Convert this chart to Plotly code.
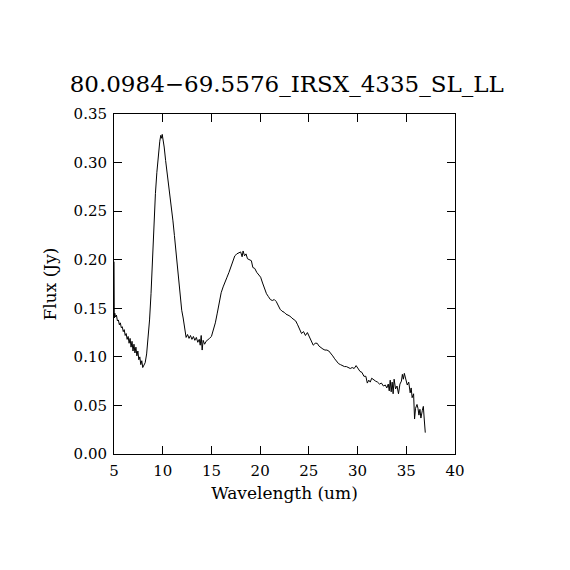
import plotly.graph_objects as go

# spectrum (um, Jy)
wavelength = [
    5.00, 5.03, 5.08, 5.15, 5.25, 5.35, 5.45, 5.55, 5.65, 5.75, 5.85, 5.95,
    6.05, 6.15, 6.25, 6.35, 6.45, 6.55, 6.65, 6.75, 6.85, 6.95, 7.05, 7.15,
    7.25, 7.35, 7.45, 7.55, 7.65, 7.75, 7.85, 7.95, 8.05, 8.20, 8.35, 8.50,
    8.65, 8.80, 8.95, 9.10, 9.25, 9.40, 9.55, 9.70, 9.80, 9.90, 9.95, 10.05,
    10.15, 10.30, 10.45, 10.60, 10.75, 10.90, 11.05, 11.20, 11.35, 11.50,
    11.65, 11.80, 11.95, 12.10, 12.25, 12.40, 12.55, 12.70, 12.85, 13.00,
    13.15, 13.30, 13.45, 13.60, 13.75, 13.85, 13.95, 14.05, 14.15, 14.30,
    14.45, 14.60, 14.80, 15.00, 15.20, 15.40, 15.60, 15.80, 16.00, 16.20,
    16.40, 16.60, 16.80, 17.00, 17.20, 17.40, 17.60, 17.80, 18.00, 18.15,
    18.25, 18.40, 18.55, 18.70, 18.90, 19.10, 19.25, 19.45, 19.65, 19.85,
    20.05, 20.25, 20.45, 20.65, 20.85, 21.05, 21.25, 21.45, 21.65, 21.85,
    22.05, 22.25, 22.45, 22.65, 22.85, 23.05, 23.25, 23.45, 23.65, 23.85,
    24.05, 24.25, 24.45, 24.65, 24.85, 25.05, 25.25, 25.45, 25.65, 25.85,
    26.05, 26.25, 26.45, 26.65, 26.85, 27.05, 27.25, 27.45, 27.65, 27.85,
    28.05, 28.25, 28.45, 28.65, 28.85, 29.05, 29.25, 29.45, 29.65, 29.85,
    30.05, 30.25, 30.45, 30.65, 30.85, 31.00, 31.15, 31.30, 31.45, 31.65,
    31.85, 32.05, 32.25, 32.45, 32.65, 32.85, 33.00, 33.15, 33.25, 33.35,
    33.45, 33.55, 33.65, 33.75, 33.90, 34.05, 34.20, 34.35, 34.50, 34.60,
    34.70, 34.80, 34.95, 35.10, 35.25, 35.40, 35.50, 35.60, 35.75, 35.85,
    35.95, 36.10, 36.20, 36.30, 36.40, 36.50, 36.65, 36.75, 36.85, 36.95,
]
flux = [
    0.198, 0.140, 0.145, 0.141, 0.143, 0.137, 0.138, 0.133, 0.135, 0.130, 0.131, 0.126,
    0.128, 0.122, 0.124, 0.118, 0.121, 0.114, 0.119, 0.110, 0.116, 0.106, 0.113, 0.104,
    0.110, 0.101, 0.106, 0.097, 0.100, 0.092, 0.096, 0.089, 0.091, 0.094, 0.103, 0.118,
    0.138, 0.165, 0.200, 0.238, 0.268, 0.290, 0.310, 0.322, 0.328, 0.325, 0.329, 0.324,
    0.316, 0.302, 0.290, 0.280, 0.268, 0.256, 0.240, 0.225, 0.210, 0.196,
    0.180, 0.162, 0.148, 0.140, 0.128, 0.120, 0.123, 0.119, 0.122, 0.118,
    0.121, 0.117, 0.120, 0.115, 0.118, 0.112, 0.122, 0.107, 0.117, 0.113,
    0.116, 0.117, 0.119, 0.121, 0.128, 0.135, 0.145, 0.156, 0.166, 0.172,
    0.178, 0.182, 0.187, 0.193, 0.198, 0.204, 0.206, 0.207, 0.208, 0.203,
    0.209, 0.204, 0.206, 0.201, 0.200, 0.199, 0.192, 0.191, 0.187, 0.184,
    0.182, 0.176, 0.170, 0.165, 0.162, 0.159, 0.158, 0.159, 0.157, 0.152,
    0.149, 0.147, 0.146, 0.144, 0.143, 0.142, 0.140, 0.138, 0.137, 0.133,
    0.128, 0.124, 0.126, 0.122, 0.125, 0.120, 0.115, 0.112, 0.114, 0.114,
    0.111, 0.109, 0.108, 0.107, 0.107, 0.106, 0.104, 0.101, 0.098, 0.095,
    0.093, 0.092, 0.091, 0.090, 0.090, 0.089, 0.088, 0.089, 0.088, 0.091,
    0.088, 0.085, 0.084, 0.080, 0.080, 0.073, 0.076, 0.074, 0.078, 0.076,
    0.075, 0.074, 0.072, 0.073, 0.070, 0.071, 0.068, 0.072, 0.065, 0.076,
    0.064, 0.074, 0.062, 0.077, 0.067, 0.070, 0.062, 0.072, 0.075, 0.082,
    0.077, 0.083, 0.078, 0.071, 0.074, 0.063, 0.068, 0.058, 0.062, 0.036,
    0.047, 0.051, 0.047, 0.040, 0.046, 0.037, 0.045, 0.049, 0.035, 0.022,
]

title = "80.0984\u221269.5576_IRSX_4335_SL_LL"
x_ticks = [5, 10, 15, 20, 25, 30, 35, 40]
y_ticks = [0.00, 0.05, 0.10, 0.15, 0.20, 0.25, 0.30, 0.35]

font = "DejaVu Serif, Liberation Serif, serif"

fig = go.Figure()
fig.add_trace(go.Scatter(x=wavelength, y=flux, mode="lines",
                         line=dict(color="black", width=1), showlegend=False))

axis_style = dict(showline=True, linecolor="black", linewidth=1, mirror="ticks",
                  ticks="inside", ticklen=8, tickcolor="black", tickwidth=1,
                  showgrid=False, zeroline=False,
                  tickfont=dict(family=font, size=15, color="black"))

fig.update_xaxes(range=[5, 40], tickvals=x_ticks,
                 ticktext=[str(v) for v in x_ticks],
                 ticklabelstandoff=3,
                 title=dict(text="Wavelength (um)", font=dict(family=font, size=17, color="black"),
                            standoff=8),
                 **axis_style)
fig.update_yaxes(range=[0, 0.35], tickvals=y_ticks,
                 ticktext=["%.2f" % v for v in y_ticks],
                 ticklabelstandoff=3,
                 title=dict(text="Flux (Jy)", font=dict(family=font, size=17, color="black"),
                            standoff=12),
                 **axis_style)

# page body adds 8px offset, so margins are shifted to land the box at 114..455
fig.update_layout(
    width=570, height=570,
    margin=dict(l=106, r=123, t=106, b=124),
    paper_bgcolor="white", plot_bgcolor="white",
    title=dict(text=title, x=0.489, xanchor="center", y=0.867, yanchor="middle",
               font=dict(family=font, size=23, color="black")),
)

fig.write_html("out.html")
